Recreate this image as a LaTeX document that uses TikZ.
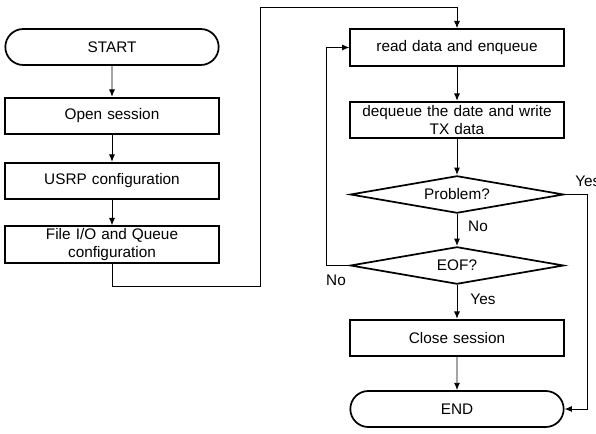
\documentclass[tikz,border=0pt]{standalone}
\usepackage{fontspec}
\setmainfont{Liberation Sans}
\usepackage{tikz}
\usetikzlibrary{arrows.meta,positioning,shapes.geometric,shapes.misc}
\tikzset{
  procbox/.style={
    draw=black,
    line width=1.3pt,
    align=center,
    text width=143pt,
    minimum width=160pt,
    minimum height=27.5pt,
    inner xsep=0pt,
    inner ysep=0pt,
    font=\fontsize{11.5pt}{13.5pt}\selectfont
  },
  termbox/.style={
    draw=black,
    line width=1.3pt,
    rounded rectangle,
    minimum width=160pt,
    minimum height=27pt,
    inner sep=0pt,
    font=\fontsize{11.5pt}{13.5pt}\selectfont
  },
  decbox/.style={
    draw=black,
    line width=1.3pt,
    diamond,
    aspect=5.75,
    minimum width=160pt,
    minimum height=28pt,
    inner sep=0pt,
    font=\fontsize{11.5pt}{13.5pt}\selectfont
  },
  flowarrow/.style={
    -{Latex[length=5.5pt,width=4.5pt]},
    line width=0.7pt
  },
  branchlabel/.style={
    inner sep=0pt,
    font=\fontsize{11.5pt}{13.5pt}\selectfont
  }
}

\begin{document}
\begin{tikzpicture}[x=0.75pt,y=-0.75pt]
  \useasboundingbox (0,0) rectangle (596,434);
  % setup column
  \node[termbox] (start) at (112,47) {START};
  \node[procbox] (open) at (112,116) {Open session};
  \node[procbox] (usrp) at (112,181) {USRP configuration};
  \node[procbox] (fileio) at (112,244.5) {File I/O and Queue\\configuration};
  % transmit loop
  \node[procbox] (read) at (457,47.5) {read data and enqueue};
  \node[procbox] (deq) at (457,120) {dequeue the date and write\\TX data};
  \node[decbox] (prob) at (457,194.5) {Problem?};
  \node[decbox] (eof) at (457,265.5) {EOF?};
  \node[procbox] (close) at (457,338) {Close session};
  \node[termbox] (end) at (457,409) {END};
  \coordinate (jog1) at (260,286);
  \coordinate (jog2) at (260,7);
  \draw[flowarrow] (start) -- (open);
  \draw[flowarrow] (open) -- (usrp);
  \draw[flowarrow] (usrp) -- (fileio);
  \draw[flowarrow] (fileio.south) |- (jog1) -- (jog2) -| (read.north);
  \draw[flowarrow] (read) -- (deq);
  \draw[flowarrow] (deq) -- (prob);
  \draw[flowarrow] (prob) -- (eof);
  \draw[flowarrow] (eof) -- (close);
  \draw[flowarrow] (close) -- (end);
  \draw[flowarrow] (eof.west) -- ++(-23,0) |- (read.west);
  \draw[flowarrow] (prob.east) -- ++(23,0) |- (end.east);
  % branch labels
  \node[branchlabel] (noprob) at (478,226) {No};
  \node[branchlabel] (noeof) at (336,280) {No};
  \node[branchlabel, anchor=west] (yesprob) at (575,181) {Yes};
  \node[branchlabel] (yeseof) at (483,299) {Yes};
\end{tikzpicture}
\end{document}
